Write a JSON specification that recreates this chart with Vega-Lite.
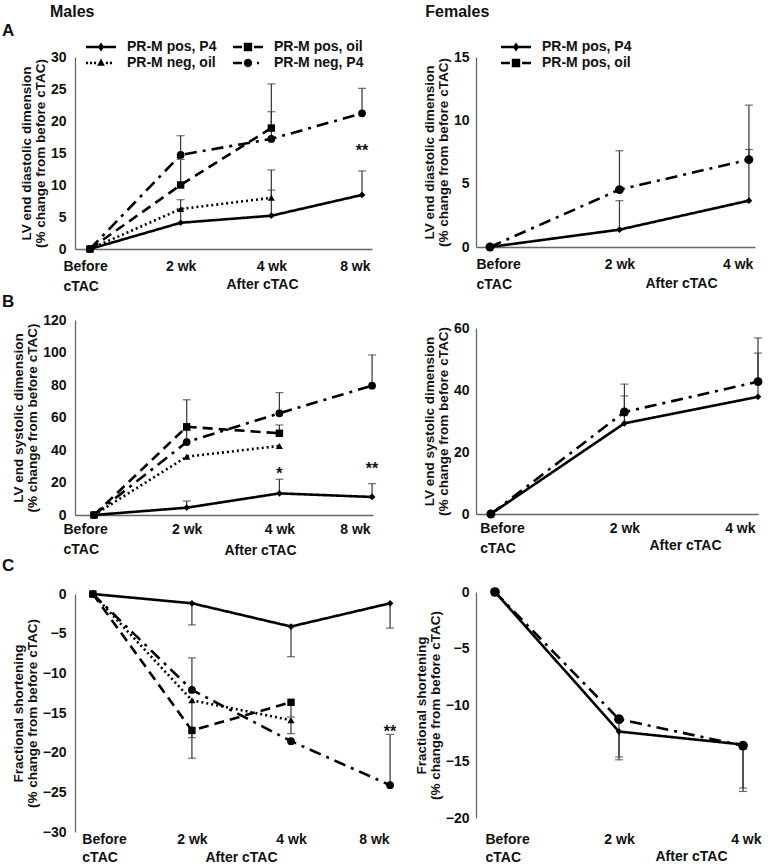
{
  "$schema": "https://vega.github.io/schema/vega-lite/v6.json",
  "padding": {"left": 2, "top": 4, "right": 0, "bottom": 0},
  "background": "white",
  "spacing": 14,
  "config": {
    "font": "Liberation Sans",
    "view": {"stroke": null},
    "axis": {"labelFont": "Liberation Sans", "labelFontSize": 14, "labelFontWeight": "bold", "labelColor": "#111", "titleFont": "Liberation Sans", "titleFontSize": 13.5, "titleFontWeight": "bold", "titleColor": "#111", "titleLineHeight": 14, "labelLineHeight": 20, "grid": false, "ticks": false, "domainColor": "#666", "domainWidth": 1.3, "labelPadding": 9, "titlePadding": 3},
    "legend": {"labelFont": "Liberation Sans", "labelFontSize": 14, "labelFontWeight": "bold", "labelColor": "#111", "labelOffset": 19, "symbolSize": 196, "symbolFillColor": "black", "symbolStrokeWidth": 0, "symbolOpacity": 1},
    "title": {"font": "Liberation Sans", "fontWeight": "bold", "color": "#111", "anchor": "start"},
    "concat": {"spacing": 0}
  },
  "datasets": {
    "maleA": [
      {"t": 0, "v": 0, "g": "PR-M pos, P4"},
      {"t": 1, "v": 4.1, "e": 6.3, "g": "PR-M pos, P4"},
      {"t": 2, "v": 5.2, "e": 9.2, "g": "PR-M pos, P4"},
      {"t": 3, "v": 8.45, "e": 12.2, "g": "PR-M pos, P4"},
      {"t": 0, "v": 0, "g": "PR-M neg, oil"},
      {"t": 1, "v": 6.25, "e": 7.7, "g": "PR-M neg, oil"},
      {"t": 2, "v": 8.0, "e": 12.35, "g": "PR-M neg, oil"},
      {"t": 0, "v": 0, "g": "PR-M neg, P4"},
      {"t": 1, "v": 14.7, "e": 17.7, "g": "PR-M neg, P4"},
      {"t": 2, "v": 17.2, "e": 21.45, "g": "PR-M neg, P4"},
      {"t": 3, "v": 21.2, "e": 25.1, "g": "PR-M neg, P4"},
      {"t": 0, "v": 0, "g": "PR-M pos, oil"},
      {"t": 1, "v": 10.0, "e": 14.0, "g": "PR-M pos, oil"},
      {"t": 2, "v": 18.9, "e": 25.8, "g": "PR-M pos, oil"}
    ],
    "maleA_sig": [{"t": 3, "v": 14.6, "s": "**"}],
    "maleB": [
      {"t": 0, "v": 0, "g": "PR-M pos, P4"},
      {"t": 1, "v": 4.5, "e": 8.6, "g": "PR-M pos, P4"},
      {"t": 2, "v": 13.3, "e": 22, "g": "PR-M pos, P4"},
      {"t": 3, "v": 11.1, "e": 19.3, "g": "PR-M pos, P4"},
      {"t": 0, "v": 0, "g": "PR-M neg, oil"},
      {"t": 1, "v": 35.9, "g": "PR-M neg, oil"},
      {"t": 2, "v": 42.5, "g": "PR-M neg, oil"},
      {"t": 0, "v": 0, "g": "PR-M neg, P4"},
      {"t": 1, "v": 44.9, "e": 52, "g": "PR-M neg, P4"},
      {"t": 2, "v": 62.6, "e": 75.3, "g": "PR-M neg, P4"},
      {"t": 3, "v": 79.6, "e": 98.5, "g": "PR-M neg, P4"},
      {"t": 0, "v": 0, "g": "PR-M pos, oil"},
      {"t": 1, "v": 54.3, "e": 70.9, "g": "PR-M pos, oil"},
      {"t": 2, "v": 50.3, "e": 55.4, "g": "PR-M pos, oil"}
    ],
    "maleB_sig": [{"t": 2, "v": 22.2, "s": "*"}, {"t": 3, "v": 25.5, "s": "**"}],
    "maleC": [
      {"t": 0, "v": 0, "g": "PR-M pos, P4"},
      {"t": 1, "v": -1.17, "e": -3.9, "g": "PR-M pos, P4"},
      {"t": 2, "v": -4.1, "e": -7.9, "g": "PR-M pos, P4"},
      {"t": 3, "v": -1.17, "e": -4.3, "g": "PR-M pos, P4"},
      {"t": 0, "v": 0, "g": "PR-M neg, oil"},
      {"t": 1, "v": -13.4, "e": -18.1, "g": "PR-M neg, oil"},
      {"t": 2, "v": -15.9, "e": -17.6, "g": "PR-M neg, oil"},
      {"t": 0, "v": 0, "g": "PR-M neg, P4"},
      {"t": 1, "v": -12.1, "e": -8.06, "g": "PR-M neg, P4"},
      {"t": 2, "v": -18.55, "g": "PR-M neg, P4"},
      {"t": 3, "v": -24.1, "e": -17.7, "g": "PR-M neg, P4"},
      {"t": 0, "v": 0, "g": "PR-M pos, oil"},
      {"t": 1, "v": -17.2, "e": -20.7, "g": "PR-M pos, oil"},
      {"t": 2, "v": -13.65, "e": -15.5, "g": "PR-M pos, oil"}
    ],
    "maleC_sig": [{"t": 3, "v": -18.05, "s": "**"}],
    "femaleA": [
      {"t": 0, "v": 0, "g": "PR-M pos, P4"},
      {"t": 1, "v": 1.37, "e": 3.66, "g": "PR-M pos, P4"},
      {"t": 2, "v": 3.66, "e": 7.7, "g": "PR-M pos, P4"},
      {"t": 0, "v": 0, "g": "PR-M pos, oil"},
      {"t": 1, "v": 4.53, "e": 7.6, "g": "PR-M pos, oil"},
      {"t": 2, "v": 6.9, "e": 11.2, "g": "PR-M pos, oil"}
    ],
    "femaleB": [
      {"t": 0, "v": 0, "g": "PR-M pos, P4"},
      {"t": 1, "v": 29.25, "e": 38.1, "g": "PR-M pos, P4"},
      {"t": 2, "v": 37.8, "e": 51.9, "g": "PR-M pos, P4"},
      {"t": 0, "v": 0, "g": "PR-M pos, oil"},
      {"t": 1, "v": 32.9, "e": 41.9, "g": "PR-M pos, oil"},
      {"t": 2, "v": 42.7, "e": 56.8, "g": "PR-M pos, oil"}
    ],
    "femaleC": [
      {"t": 0, "v": 0, "g": "PR-M pos, P4"},
      {"t": 1, "v": -12.35, "e": -14.85, "g": "PR-M pos, P4"},
      {"t": 2, "v": -13.5, "e": -17.65, "g": "PR-M pos, P4"},
      {"t": 0, "v": 0, "g": "PR-M pos, oil"},
      {"t": 1, "v": -11.26, "e": -14.6, "g": "PR-M pos, oil"},
      {"t": 2, "v": -13.6, "e": -17.35, "g": "PR-M pos, oil"}
    ]
  },
  "resolve": {"scale": {"shape": "independent", "strokeDash": "independent", "size": "independent"}, "legend": {"shape": "independent"}},
  "hconcat": [
    {
      "title": {"text": "Males", "fontSize": 16, "dx": 48, "offset": 2},
      "spacing": 0,
      "resolve": {"scale": {"shape": "independent", "strokeDash": "independent", "size": "independent"}, "legend": {"shape": "independent"}},
      "vconcat": [
        {
          "title": {"text": "A", "fontSize": 17, "frame": "group", "dx": -73, "offset": 0},
          "width": 297, "height": 192,
          "data": {"name": "maleA"},
          "encoding": {
            "x": {"field": "t", "type": "quantitative", "scale": {"domain": [-0.165, 3.11], "nice": false, "zero": false},
              "axis": {"values": [0, 1, 2, 3], "labelExpr": "datum.value == 0 ? ['Before','cTAC'] : datum.value == 1 ? '2 wk' : datum.value == 2 ? '4 wk' : '8 wk'",
                "labelAlign": {"condition": [{"test": "datum.value == 0", "value": "left"}, {"test": "datum.value == 3", "value": "right"}], "value": "center"},
                "labelOffset": {"condition": [{"test": "datum.value == 0", "value": -27}, {"test": "datum.value == 3", "value": 8}], "value": 0},
                "labelPadding": 10, "title": "After cTAC", "titleX": 187, "titleY": 39, "titleBaseline": "alphabetic", "titleAlign": "center", "titleFontSize": 14}},
            "y": {"field": "v", "type": "quantitative", "scale": {"domain": [0, 30], "nice": false, "zero": false},
              "axis": {"values": [0, 5, 10, 15, 20, 25, 30], "title": ["LV end diastolic dimension", "(% change from before cTAC)"]}}
          },
          "layer": [
            {"transform": [{"filter": "datum.e != null"}], "mark": {"type": "rule", "color": "#333", "strokeWidth": 1.2}, "encoding": {"y2": {"field": "e"}}},
            {"transform": [{"filter": "datum.e != null"}], "mark": {"type": "tick", "orient": "horizontal", "color": "#333", "thickness": 1.2, "size": 8}, "encoding": {"y": {"field": "e", "type": "quantitative"}}},
            {"mark": {"type": "line", "color": "black", "strokeWidth": 2.6}, "encoding": {"strokeDash": {"field": "g", "type": "nominal", "scale": {"domain": ["PR-M pos, P4", "PR-M neg, oil", "PR-M pos, oil", "PR-M neg, P4"], "range": [[1, 0], [2, 3], [10, 6], [12, 6, 3, 6]]}, "legend": null}}},
            {"mark": {"type": "point", "filled": true, "color": "black", "opacity": 1}, "encoding": {
              "shape": {"field": "g", "type": "nominal", "scale": {"domain": ["PR-M pos, P4", "PR-M neg, oil", "PR-M pos, oil", "PR-M neg, P4"], "range": ["diamond", "triangle-up", "square", "circle"]}, "legend": null},
              "size": {"field": "g", "type": "ordinal", "scale": {"domain": ["PR-M pos, P4", "PR-M neg, oil", "PR-M pos, oil", "PR-M neg, P4"], "range": [45, 60, 75, 75]}, "legend": null}}},
            {"transform": [{"filter": "false"}], "mark": {"type": "point", "filled": true, "color": "black"}, "encoding": {
              "shape": {"field": "g", "type": "nominal", "scale": {"domain": ["PR-M pos, P4", "PR-M neg, oil", "PR-M pos, oil", "PR-M neg, P4"], "range": [
                "M-2.14,-0.19L2.14,-0.19L2.14,0.19L-2.14,0.19ZM0,-0.64L0.45,0L0,0.64L-0.45,0Z",
                "M-2.14,-0.19L-1.84,-0.19L-1.84,0.19L-2.14,0.19ZM-1.57,-0.19L-1.27,-0.19L-1.27,0.19L-1.57,0.19ZM-1,-0.19L-0.7,-0.19L-0.7,0.19L-1,0.19ZM0.7,-0.19L1,-0.19L1,0.19L0.7,0.19ZM1.27,-0.19L1.57,-0.19L1.57,0.19L1.27,0.19ZM0,-0.64L0.55,0.4L-0.55,0.4Z",
                "M-2.14,-0.19L-0.86,-0.19L-0.86,0.19L-2.14,0.19ZM0.86,-0.19L2.14,-0.19L2.14,0.19L0.86,0.19ZM-0.6,-0.6L0.6,-0.6L0.6,0.6L-0.6,0.6Z",
                "M-2.14,-0.19L-0.86,-0.19L-0.86,0.19L-2.14,0.19ZM1.29,-0.19L1.57,-0.19L1.57,0.19L1.29,0.19ZM0.6,0A0.6,0.6,0,1,1,-0.6,0A0.6,0.6,0,1,1,0.6,0Z"]},
                "legend": {"title": null, "orient": "none", "legendX": 19, "legendY": -17, "columns": 2, "columnPadding": 16, "rowPadding": 2}}}},
            {"data": {"name": "maleA_sig"}, "mark": {"type": "text", "fontSize": 16, "fontWeight": "bold", "baseline": "alphabetic", "align": "center", "color": "#111"}, "encoding": {"text": {"field": "s"}}},
            {"data": {"values": [{}]}, "mark": {"type": "rule", "color": "#222", "strokeWidth": 1.5}, "encoding": {"x": {"datum": 0.85}, "x2": {"datum": 3.11}, "y": {"datum": -3.6}}}
          ],
          "resolve": {"scale": {"shape": "independent"}}
        },
        {
          "title": {"text": "B", "fontSize": 17, "frame": "group", "dx": -73, "offset": 2},
          "width": 298, "height": 195,
          "data": {"name": "maleB"},
          "encoding": {
            "x": {"field": "t", "type": "quantitative", "scale": {"domain": [-0.205, 3.01], "nice": false, "zero": false},
              "axis": {"values": [0, 1, 2, 3], "labelExpr": "datum.value == 0 ? ['Before','cTAC'] : datum.value == 1 ? '2 wk' : datum.value == 2 ? '4 wk' : '8 wk'",
                "labelAlign": {"condition": [{"test": "datum.value == 0", "value": "left"}, {"test": "datum.value == 3", "value": "right"}], "value": "center"},
                "labelOffset": {"condition": [{"test": "datum.value == 0", "value": -31}, {"test": "datum.value == 3", "value": -2}], "value": 0},
                "labelPadding": 7, "title": "After cTAC", "titleX": 185, "titleY": 39, "titleBaseline": "alphabetic", "titleAlign": "center", "titleFontSize": 14}},
            "y": {"field": "v", "type": "quantitative", "scale": {"domain": [0, 120], "nice": false, "zero": false},
              "axis": {"values": [0, 20, 40, 60, 80, 100, 120], "title": ["LV end systolic dimension", "(% change from before cTAC)"]}}
          },
          "layer": [
            {"transform": [{"filter": "datum.e != null"}], "mark": {"type": "rule", "color": "#333", "strokeWidth": 1.2}, "encoding": {"y2": {"field": "e"}}},
            {"transform": [{"filter": "datum.e != null"}], "mark": {"type": "tick", "orient": "horizontal", "color": "#333", "thickness": 1.2, "size": 8}, "encoding": {"y": {"field": "e", "type": "quantitative"}}},
            {"mark": {"type": "line", "color": "black", "strokeWidth": 2.6}, "encoding": {"strokeDash": {"field": "g", "type": "nominal", "scale": {"domain": ["PR-M pos, P4", "PR-M neg, oil", "PR-M pos, oil", "PR-M neg, P4"], "range": [[1, 0], [2, 3], [10, 6], [12, 6, 3, 6]]}, "legend": null}}},
            {"mark": {"type": "point", "filled": true, "color": "black", "opacity": 1}, "encoding": {
              "shape": {"field": "g", "type": "nominal", "scale": {"domain": ["PR-M pos, P4", "PR-M neg, oil", "PR-M pos, oil", "PR-M neg, P4"], "range": ["diamond", "triangle-up", "square", "circle"]}, "legend": null},
              "size": {"field": "g", "type": "ordinal", "scale": {"domain": ["PR-M pos, P4", "PR-M neg, oil", "PR-M pos, oil", "PR-M neg, P4"], "range": [45, 60, 75, 75]}, "legend": null}}},
            {"data": {"name": "maleB_sig"}, "mark": {"type": "text", "fontSize": 16, "fontWeight": "bold", "baseline": "alphabetic", "align": "center", "color": "#111"}, "encoding": {"text": {"field": "s"}}},
            {"data": {"values": [{}]}, "mark": {"type": "rule", "color": "#222", "strokeWidth": 1.5}, "encoding": {"x": {"datum": 0.79}, "x2": {"datum": 3.01}, "y": {"datum": -14.8}}}
          ]
        },
        {
          "title": {"text": "C", "fontSize": 17, "frame": "group", "dx": -73, "offset": 12},
          "width": 325, "height": 238,
          "data": {"name": "maleC"},
          "encoding": {
            "x": {"field": "t", "type": "quantitative", "scale": {"domain": [-0.18, 3.1], "nice": false, "zero": false},
              "axis": {"values": [0, 1, 2, 3], "domain": false, "labelLineHeight": 18, "labelExpr": "datum.value == 0 ? ['Before','cTAC'] : datum.value == 1 ? '2 wk' : datum.value == 2 ? '4 wk' : '8 wk'",
                "labelAlign": {"condition": [{"test": "datum.value == 0", "value": "left"}, {"test": "datum.value == 3", "value": "right"}], "value": "center"},
                "labelOffset": {"condition": [{"test": "datum.value == 0", "value": -11}, {"test": "datum.value == 3", "value": -1}], "value": 0},
                "labelPadding": 0, "title": "After cTAC", "titleX": 166, "titleY": 29, "titleBaseline": "alphabetic", "titleAlign": "center", "titleFontSize": 14}},
            "y": {"field": "v", "type": "quantitative", "scale": {"domain": [-30, 0], "nice": false, "zero": false},
              "axis": {"values": [-30, -25, -20, -15, -10, -5, 0], "title": ["Fractional shortening", "(% change from before cTAC)"]}}
          },
          "layer": [
            {"data": {"values": [{}]}, "mark": {"type": "rule", "color": "#666", "strokeWidth": 1.3}, "encoding": {"x": null, "y": {"datum": 0}}},
            {"transform": [{"filter": "datum.e != null"}], "mark": {"type": "rule", "color": "#333", "strokeWidth": 1.2}, "encoding": {"y2": {"field": "e"}}},
            {"transform": [{"filter": "datum.e != null"}], "mark": {"type": "tick", "orient": "horizontal", "color": "#333", "thickness": 1.2, "size": 8}, "encoding": {"y": {"field": "e", "type": "quantitative"}}},
            {"mark": {"type": "line", "color": "black", "strokeWidth": 2.6}, "encoding": {"strokeDash": {"field": "g", "type": "nominal", "scale": {"domain": ["PR-M pos, P4", "PR-M neg, oil", "PR-M pos, oil", "PR-M neg, P4"], "range": [[1, 0], [2, 3], [10, 6], [12, 6, 3, 6]]}, "legend": null}}},
            {"mark": {"type": "point", "filled": true, "color": "black", "opacity": 1}, "encoding": {
              "shape": {"field": "g", "type": "nominal", "scale": {"domain": ["PR-M pos, P4", "PR-M neg, oil", "PR-M pos, oil", "PR-M neg, P4"], "range": ["diamond", "triangle-up", "square", "circle"]}, "legend": null},
              "size": {"field": "g", "type": "ordinal", "scale": {"domain": ["PR-M pos, P4", "PR-M neg, oil", "PR-M pos, oil", "PR-M neg, P4"], "range": [45, 60, 75, 75]}, "legend": null}}},
            {"data": {"name": "maleC_sig"}, "mark": {"type": "text", "fontSize": 16, "fontWeight": "bold", "baseline": "alphabetic", "align": "center", "color": "#111"}, "encoding": {"text": {"field": "s"}}},
            {"data": {"values": [{}]}, "mark": {"type": "rule", "color": "#222", "strokeWidth": 1.5}, "encoding": {"x": {"datum": 0.93}, "x2": {"datum": 2.99}, "y": {"datum": -32.1}}}
          ]
        }
      ]
    },
    {
      "title": {"text": "Females", "fontSize": 16, "dx": 11, "offset": 20},
      "spacing": 30,
      "resolve": {"scale": {"shape": "independent", "strokeDash": "independent", "size": "independent"}, "legend": {"shape": "independent"}},
      "vconcat": [
        {
          "width": 279, "height": 190,
          "data": {"name": "femaleA"},
          "encoding": {
            "x": {"field": "t", "type": "quantitative", "scale": {"domain": [-0.108, 2.047], "nice": false, "zero": false},
              "axis": {"values": [0, 1, 2], "labelExpr": "datum.value == 0 ? ['Before','cTAC'] : datum.value == 1 ? '2 wk' : '4 wk'",
                "labelAlign": {"condition": [{"test": "datum.value == 0", "value": "left"}, {"test": "datum.value == 2", "value": "right"}], "value": "center"},
                "labelOffset": {"condition": [{"test": "datum.value == 0", "value": -14}, {"test": "datum.value == 2", "value": 4}], "value": 0},
                "labelPadding": 10, "title": "After cTAC", "titleX": 205, "titleY": 40, "titleBaseline": "alphabetic", "titleAlign": "center", "titleFontSize": 14}},
            "y": {"field": "v", "type": "quantitative", "scale": {"domain": [0, 15], "nice": false, "zero": false},
              "axis": {"values": [0, 5, 10, 15], "labelPadding": 7, "title": ["LV end diastolic dimension", "(% change from before cTAC)"]}}
          },
          "layer": [
            {"transform": [{"filter": "datum.e != null"}], "mark": {"type": "rule", "color": "#333", "strokeWidth": 1.2}, "encoding": {"y2": {"field": "e"}}},
            {"transform": [{"filter": "datum.e != null"}], "mark": {"type": "tick", "orient": "horizontal", "color": "#333", "thickness": 1.2, "size": 8}, "encoding": {"y": {"field": "e", "type": "quantitative"}}},
            {"mark": {"type": "line", "color": "black", "strokeWidth": 2.6}, "encoding": {"strokeDash": {"field": "g", "type": "nominal", "scale": {"domain": ["PR-M pos, P4", "PR-M pos, oil"], "range": [[1, 0], [12, 6, 3, 6]]}, "legend": null}}},
            {"mark": {"type": "point", "filled": true, "color": "black", "opacity": 1}, "encoding": {
              "shape": {"field": "g", "type": "nominal", "scale": {"domain": ["PR-M pos, P4", "PR-M pos, oil"], "range": ["diamond", "circle"]}, "legend": null},
              "size": {"field": "g", "type": "ordinal", "scale": {"domain": ["PR-M pos, P4", "PR-M pos, oil"], "range": [45, 80]}, "legend": null}}},
            {"transform": [{"filter": "false"}], "mark": {"type": "point", "filled": true, "color": "black"}, "encoding": {
              "shape": {"field": "g", "type": "nominal", "scale": {"domain": ["PR-M pos, P4", "PR-M pos, oil"], "range": [
                "M-2.14,-0.19L2.14,-0.19L2.14,0.19L-2.14,0.19ZM0,-0.64L0.45,0L0,0.64L-0.45,0Z",
                "M-2.14,-0.19L-0.86,-0.19L-0.86,0.19L-2.14,0.19ZM0.86,-0.19L2.14,-0.19L2.14,0.19L0.86,0.19ZM-0.6,-0.6L0.6,-0.6L0.6,0.6L-0.6,0.6Z"]},
                "legend": {"title": null, "orient": "none", "legendX": 33, "legendY": -17, "rowPadding": 2}}}},
            {"data": {"values": [{}]}, "mark": {"type": "rule", "color": "#222", "strokeWidth": 1.5}, "encoding": {"x": {"datum": 0.85}, "x2": {"datum": 2.047}, "y": {"datum": -1.97}}}
          ],
          "resolve": {"scale": {"shape": "independent"}}
        },
        {
          "width": 282, "height": 186,
          "data": {"name": "femaleB"},
          "encoding": {
            "x": {"field": "t", "type": "quantitative", "scale": {"domain": [-0.111, 2.0], "nice": false, "zero": false},
              "axis": {"values": [0, 1, 2], "labelExpr": "datum.value == 0 ? ['Before','cTAC'] : datum.value == 1 ? '2 wk' : '4 wk'",
                "labelAlign": {"condition": [{"test": "datum.value == 0", "value": "left"}, {"test": "datum.value == 2", "value": "right"}], "value": "center"},
                "labelOffset": {"condition": [{"test": "datum.value == 0", "value": -11}, {"test": "datum.value == 2", "value": -3}], "value": 0},
                "labelPadding": 7, "title": "After cTAC", "titleX": 209, "titleY": 35, "titleBaseline": "alphabetic", "titleAlign": "center", "titleFontSize": 14}},
            "y": {"field": "v", "type": "quantitative", "scale": {"domain": [0, 60], "nice": false, "zero": false},
              "axis": {"values": [0, 20, 40, 60], "labelPadding": 7, "title": ["LV end systolic dimension", "(% change from before cTAC)"]}}
          },
          "layer": [
            {"transform": [{"filter": "datum.e != null"}], "mark": {"type": "rule", "color": "#333", "strokeWidth": 1.2}, "encoding": {"y2": {"field": "e"}}},
            {"transform": [{"filter": "datum.e != null"}], "mark": {"type": "tick", "orient": "horizontal", "color": "#333", "thickness": 1.2, "size": 8}, "encoding": {"y": {"field": "e", "type": "quantitative"}}},
            {"mark": {"type": "line", "color": "black", "strokeWidth": 2.6}, "encoding": {"strokeDash": {"field": "g", "type": "nominal", "scale": {"domain": ["PR-M pos, P4", "PR-M pos, oil"], "range": [[1, 0], [12, 6, 3, 6]]}, "legend": null}}},
            {"mark": {"type": "point", "filled": true, "color": "black", "opacity": 1}, "encoding": {
              "shape": {"field": "g", "type": "nominal", "scale": {"domain": ["PR-M pos, P4", "PR-M pos, oil"], "range": ["diamond", "circle"]}, "legend": null},
              "size": {"field": "g", "type": "ordinal", "scale": {"domain": ["PR-M pos, P4", "PR-M pos, oil"], "range": [45, 80]}, "legend": null}}},
            {"data": {"values": [{}]}, "mark": {"type": "rule", "color": "#222", "strokeWidth": 1.5}, "encoding": {"x": {"datum": 0.84}, "x2": {"datum": 2.0}, "y": {"datum": -6.8}}}
          ]
        },
        {
          "width": 285, "height": 226,
          "data": {"name": "femaleC"},
          "encoding": {
            "x": {"field": "t", "type": "quantitative", "scale": {"domain": [-0.153, 2.145], "nice": false, "zero": false},
              "axis": {"values": [0, 1, 2], "domain": false, "labelLineHeight": 18, "labelExpr": "datum.value == 0 ? ['Before','cTAC'] : datum.value == 1 ? '2 wk' : '4 wk'",
                "labelAlign": {"condition": [{"test": "datum.value == 0", "value": "left"}, {"test": "datum.value == 2", "value": "right"}], "value": "center"},
                "labelOffset": {"condition": [{"test": "datum.value == 0", "value": -10}, {"test": "datum.value == 2", "value": 18}], "value": 0},
                "labelPadding": 14, "title": "After cTAC", "titleX": 215, "titleY": 42, "titleBaseline": "alphabetic", "titleAlign": "center", "titleFontSize": 14}},
            "y": {"field": "v", "type": "quantitative", "scale": {"domain": [-20, 0], "nice": false, "zero": false},
              "axis": {"values": [-20, -15, -10, -5, 0], "labelPadding": 7, "title": ["Fractional shortening", "(% change from before cTAC)"]}}
          },
          "layer": [
            {"data": {"values": [{}]}, "mark": {"type": "rule", "color": "#666", "strokeWidth": 1.3}, "encoding": {"x": null, "y": {"datum": 0}}},
            {"transform": [{"filter": "datum.e != null"}], "mark": {"type": "rule", "color": "#333", "strokeWidth": 1.2}, "encoding": {"y2": {"field": "e"}}},
            {"transform": [{"filter": "datum.e != null"}], "mark": {"type": "tick", "orient": "horizontal", "color": "#333", "thickness": 1.2, "size": 8}, "encoding": {"y": {"field": "e", "type": "quantitative"}}},
            {"mark": {"type": "line", "color": "black", "strokeWidth": 2.6}, "encoding": {"strokeDash": {"field": "g", "type": "nominal", "scale": {"domain": ["PR-M pos, P4", "PR-M pos, oil"], "range": [[1, 0], [12, 6, 3, 6]]}, "legend": null}}},
            {"mark": {"type": "point", "filled": true, "color": "black", "opacity": 1}, "encoding": {
              "shape": {"field": "g", "type": "nominal", "scale": {"domain": ["PR-M pos, P4", "PR-M pos, oil"], "range": ["diamond", "circle"]}, "legend": null},
              "size": {"field": "g", "type": "ordinal", "scale": {"domain": ["PR-M pos, P4", "PR-M pos, oil"], "range": [45, 95]}, "legend": null}}},
            {"data": {"values": [{}]}, "mark": {"type": "rule", "color": "#222", "strokeWidth": 1.5}, "encoding": {"x": {"datum": 0.93}, "x2": {"datum": 2.145}, "y": {"datum": -22.57}}}
          ]
        }
      ]
    }
  ]
}
